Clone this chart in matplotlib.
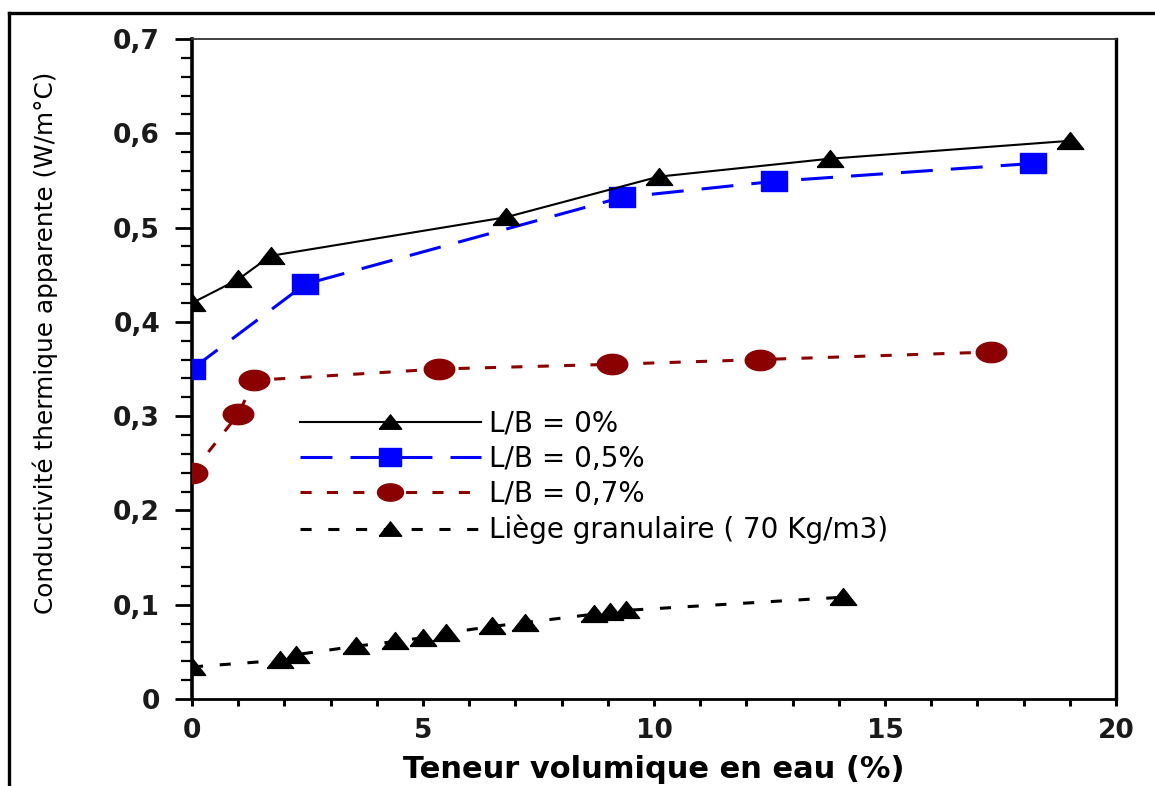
import matplotlib
matplotlib.use("Agg")
import matplotlib.pyplot as plt
import numpy as np
from matplotlib.lines import Line2D
from matplotlib.ticker import FuncFormatter, MultipleLocator

# L/B = 0 %
x_lb0 = [0.0, 1.0, 1.7, 6.8, 10.1, 13.8, 19.0]
y_lb0 = [0.420, 0.445, 0.470, 0.511, 0.554, 0.573, 0.592]

# L/B = 0,5 %
x_lb05 = [0.0, 2.45, 9.3, 12.6, 18.2]
y_lb05 = [0.350, 0.440, 0.532, 0.549, 0.568]

# L/B = 0,7 %
x_lb07 = [0.0, 1.0, 1.35, 5.35, 9.1, 12.3, 17.3]
y_lb07 = [0.240, 0.302, 0.338, 0.350, 0.355, 0.360, 0.368]

# Liège granulaire
x_liege = [0.0, 1.9, 2.25, 3.55, 4.4, 5.0, 5.5, 6.5, 7.2, 8.7, 9.05, 9.4, 14.1]
y_liege = [0.034, 0.041, 0.047, 0.056, 0.061, 0.065, 0.070, 0.077, 0.081, 0.090, 0.092, 0.094, 0.108]

labels = ["L/B = 0%", "L/B = 0,5%", "L/B = 0,7%", "Liège granulaire ( 70 Kg/m3)"]

plt.rcParams["lines.scale_dashes"] = False

# the source picture is stretched sideways, so markers are wider than tall
tri = [(-1.25, -0.75), (1.25, -0.75), (0.0, 0.85), (-1.25, -0.75)]
rect = [(-1.2, -0.95), (1.2, -0.95), (1.2, 0.95), (-1.2, 0.95), (-1.2, -0.95)]
t = np.linspace(0, 2 * np.pi, 40)
ell = list(zip(1.5 * np.cos(t), np.sin(t)))

fig = plt.figure(figsize=(11.55, 7.86), dpi=100)
W, H = 1155, 786
ax = fig.add_axes([192 / W, 1 - 699 / H, (1116 - 192) / W, (699 - 39) / H])

ax.plot(x_lb0, y_lb0, color="black", lw=1.5, marker=tri, ms=19,
        mfc="black", mec="black", label=labels[0], zorder=4)
ax.plot(x_lb05, y_lb05, color="#0000ff", lw=2.2, dashes=(23, 13), marker=rect, ms=19,
        mfc="#0000ff", mec="#0000ff", label=labels[1], zorder=3)
ax.plot(x_lb07, y_lb07, color="#8b0000", lw=2.2, dashes=(8, 11), marker=ell, ms=22,
        mfc="#8b0000", mec="#8b0000", label=labels[2], zorder=3)
ax.plot(x_liege, y_liege, color="black", lw=2.2, dashes=(8, 12), marker=tri, ms=19,
        mfc="black", mec="black", label=labels[3], zorder=3)

ax.set_xlim(0, 20)
ax.set_ylim(0, 0.7)
ax.xaxis.set_major_locator(MultipleLocator(5))
ax.xaxis.set_minor_locator(MultipleLocator(1))
ax.yaxis.set_major_locator(MultipleLocator(0.1))
ax.yaxis.set_minor_locator(MultipleLocator(0.02))
ax.yaxis.set_major_formatter(FuncFormatter(lambda v, p: "0" if abs(v) < 1e-9 else f"{v:.1f}".replace(".", ",")))
ax.xaxis.set_major_formatter(FuncFormatter(lambda v, p: f"{v:.0f}"))

ax.tick_params(axis="y", which="major", direction="out", length=12, width=2, pad=11,
               labelsize=19)
ax.tick_params(axis="y", which="minor", direction="out", length=8, width=1.6)
ax.tick_params(axis="x", which="both", direction="out", length=5, width=2.2, pad=9,
               labelsize=19)
for lab in ax.get_xticklabels() + ax.get_yticklabels():
    lab.set_fontweight("bold")
    lab.set_color("#1a1a1a")

ax.spines["left"].set_linewidth(2.6)
ax.spines["bottom"].set_linewidth(2.0)
ax.spines["right"].set_linewidth(2.4)
ax.spines["top"].set_linewidth(1.3)
ax.spines["top"].set_color("#333333")

ax.set_xlabel("Teneur volumique en eau (%)", fontsize=22, fontweight="bold")
ax.xaxis.set_label_coords(0.5, (699 - 755) / 660)
ylab = ax.set_ylabel("Conductivité thermique apparente (W/m°C)", fontsize=20,
                     fontweight="medium", va="center")
ax.yaxis.set_label_coords((45 - 192) / 924, (699 - 343) / 660)

leg = ax.legend(loc="upper left", bbox_to_anchor=((300 - 192) / 924, (699 - 410) / 660),
                frameon=False, fontsize=20, handlelength=6.5, handletextpad=0.3,
                borderpad=0, borderaxespad=0, labelspacing=0.25, markerscale=0.85)

# the y label in the source is a narrow face; keep it close to the same length
fig.canvas.draw()
span = ylab.get_window_extent().height
ylab.set_fontsize(20 * 540 / span)

# outer frame of the original picture (only top and left edges visible)
fig.add_artist(Line2D([9 / W, 1], [1 - 13 / H, 1 - 13 / H], color="black", lw=2.4,
                      transform=fig.transFigure))
fig.add_artist(Line2D([9 / W, 9 / W], [0, 1 - 13 / H], color="black", lw=2.4,
                      transform=fig.transFigure))

fig.savefig("out.png", dpi=100)
